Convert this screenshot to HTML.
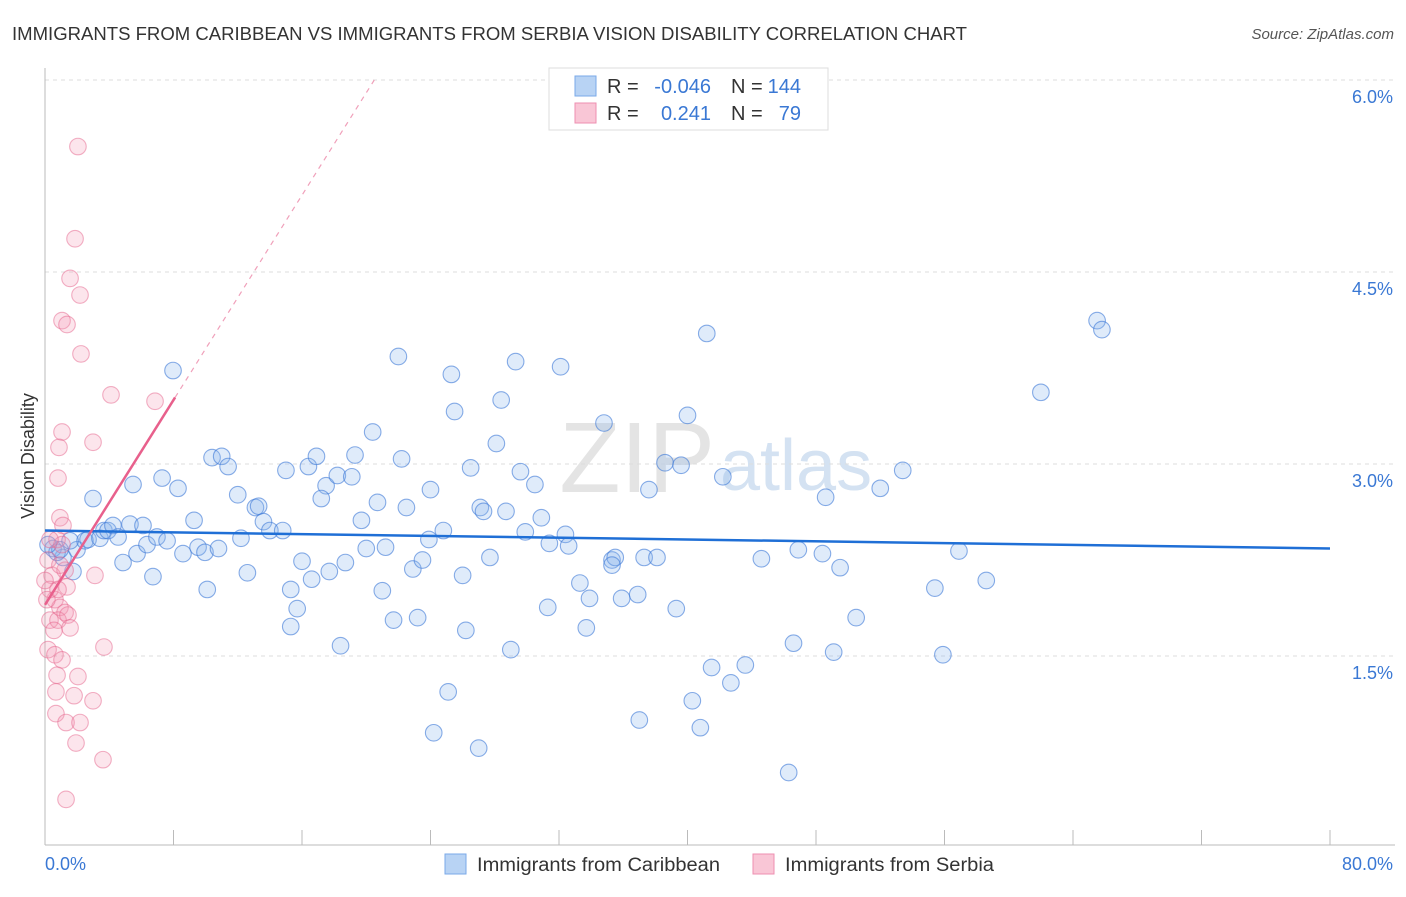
<!DOCTYPE html>
<html><head><meta charset="utf-8"><style>
body{margin:0;background:#fff;font-family:"Liberation Sans",sans-serif}
svg text{font-family:"Liberation Sans",sans-serif}
</style></head><body>
<svg id="c" width="1406" height="892" xmlns="http://www.w3.org/2000/svg">
<text x="12" y="40" font-size="18" fill="#333" textLength="955" lengthAdjust="spacingAndGlyphs">IMMIGRANTS FROM CARIBBEAN VS IMMIGRANTS FROM SERBIA VISION DISABILITY CORRELATION CHART</text>
<text x="1394" y="39" font-size="15" fill="#555" font-style="italic" text-anchor="end">Source: ZipAtlas.com</text>
<text x="715" y="492" font-size="100" fill="#e4e4e4" text-anchor="end" font-family="Liberation Serif">ZIP</text>
<text x="720" y="490" font-size="72" fill="#d4e2f2">atlas</text>
<g id="grid"></g>
<g id="axes"></g>
<g id="pts"></g>
<g id="trend"></g>
<text x="0" y="0" font-size="18" fill="#333" transform="translate(34,456) rotate(-90)" text-anchor="middle">Vision Disability</text>
<text x="45" y="870" font-size="18" fill="#3a78d4">0.0%</text>
<text x="1393" y="870" font-size="18" fill="#3a78d4" text-anchor="end">80.0%</text>
<g>
<rect x="549" y="68" width="279" height="62" fill="#fff" stroke="#ddd"/>
<rect x="575" y="76" width="21" height="20" fill="#b8d3f4" stroke="#7aaae8"/>
<rect x="575" y="103" width="21" height="20" fill="#f9c6d6" stroke="#ee8fb0"/>
<text x="607" y="93" font-size="20" fill="#333">R =</text>
<text x="711" y="93" font-size="20" fill="#3a78d4" text-anchor="end">-0.046</text>
<text x="731" y="93" font-size="20" fill="#333">N =</text>
<text x="801" y="93" font-size="20" fill="#3a78d4" text-anchor="end">144</text>
<text x="607" y="120" font-size="20" fill="#333">R =</text>
<text x="711" y="120" font-size="20" fill="#3a78d4" text-anchor="end">0.241</text>
<text x="731" y="120" font-size="20" fill="#333">N =</text>
<text x="801" y="120" font-size="20" fill="#3a78d4" text-anchor="end">79</text>
</g>
<g>
<rect x="445" y="854" width="21" height="20" fill="#b8d3f4" stroke="#7aaae8"/>
<text x="477" y="871" font-size="19" fill="#333" textLength="243" lengthAdjust="spacingAndGlyphs">Immigrants from Caribbean</text>
<rect x="753" y="854" width="21" height="20" fill="#f9c6d6" stroke="#ee8fb0"/>
<text x="785" y="871" font-size="19" fill="#333" textLength="209" lengthAdjust="spacingAndGlyphs">Immigrants from Serbia</text>
</g>
</svg>
<script>
const yTicks=[6.0,4.5,3.0,1.5];
const yTickLabels=["6.0%","4.5%","3.0%","1.5%"];
const xTicks=[0,8,16,24,32,40,48,56,64,72,80];
const blueX=[7.97,2.99,5.48,7.29,8.28,10.4,11.0,11.4,12.0,13.1,13.3,13.6,14.0,14.8,15.0,16.4,16.9,17.5,17.2,18.2,19.1,19.3,20.4,19.7,20.7,20.0,21.2,22.2,22.5,24.0,22.0,25.3,25.5,26.5,27.1,27.3,28.1,28.4,29.3,29.6,28.7,29.9,30.5,30.9,31.4,32.1,32.4,32.6,34.8,35.3,35.5,37.6,38.6,39.6,40.0,41.2,42.2,48.6,52.0,53.4,62.0,65.5,65.8,
4.86,6.72,5.73,8.59,9.28,9.53,9.96,10.8,12.2,12.6,10.1,15.3,16.0,16.6,17.7,18.7,15.7,15.3,18.4,21.0,21.7,23.2,22.9,23.5,23.9,24.8,26.0,26.2,27.7,25.1,24.2,27.0,29.0,31.3,33.3,33.9,33.7,35.3,35.9,36.9,37.3,38.1,39.3,37.0,41.5,40.3,40.8,42.7,43.6,44.6,46.6,46.3,46.9,48.4,49.5,49.1,50.5,55.4,55.9,56.9,58.6,
1.74,1.12,1.99,2.49,2.68,3.42,3.67,3.92,4.23,4.55,5.29,6.10,6.35,6.97,7.60,0.50,0.75,0.93,1.56,0.19];
const blueY=[3.73,2.73,2.84,2.89,2.81,3.05,3.06,2.98,2.76,2.66,2.67,2.55,2.48,2.48,2.95,2.98,3.06,2.83,2.73,2.91,2.90,3.07,3.25,2.56,2.70,2.34,2.35,3.04,2.66,2.80,3.84,3.70,3.41,2.97,2.66,2.63,3.16,3.50,3.80,2.94,2.63,2.47,2.84,2.58,2.38,3.76,2.45,2.36,3.32,2.25,2.27,2.80,3.01,2.99,3.38,4.02,2.90,2.74,2.81,2.95,3.56,4.12,4.05,
2.23,2.12,2.30,2.30,2.56,2.35,2.31,2.34,2.42,2.15,2.02,2.02,2.24,2.10,2.16,2.23,1.87,1.73,1.58,2.01,1.78,1.80,2.18,2.25,2.41,2.48,2.13,1.70,2.27,1.22,0.90,0.78,1.55,1.88,2.07,1.95,1.72,2.21,1.95,1.98,2.27,2.27,1.87,1.00,1.41,1.15,0.94,1.29,1.43,2.26,1.60,0.59,2.33,2.30,2.19,1.53,1.80,2.03,1.51,2.32,2.09,
2.16,2.27,2.33,2.40,2.41,2.42,2.48,2.48,2.52,2.43,2.53,2.52,2.37,2.43,2.40,2.34,2.31,2.33,2.40,2.37];
const pinkX=[2.05,1.87,1.56,2.18,1.06,1.37,2.24,4.11,6.85,1.06,2.99,0.87,0.81,0.93,1.12,0.75,1.06,3.11,3.67,1.37,0.19,0.44,0.62,0.93,1.25,0.31,0.81,1.43,1.56,0.19,0.62,1.06,0.75,2.05,0.68,1.81,2.99,0.68,1.31,2.18,1.93,3.61,1.31,0.31,0.56,0.12,0.81,1.25,0.31,0.93,0.0];
const pinkY=[5.48,4.76,4.45,4.32,4.12,4.09,3.86,3.54,3.49,3.25,3.17,3.13,2.89,2.58,2.52,2.41,2.37,2.13,1.57,2.04,2.25,2.13,1.94,1.88,1.84,1.78,1.78,1.82,1.72,1.55,1.51,1.47,1.35,1.34,1.22,1.19,1.15,1.05,0.98,0.98,0.82,0.69,0.38,2.02,1.70,1.94,2.02,2.17,2.41,2.21,2.09];
const blueTrend=[2.48,2.34];
const pinkTrend=[1.9,0.2];
const NS="http://www.w3.org/2000/svg";
const X=v=>45+v*(1285/80);
const Y=v=>80+(6-v)*128;
function mk(tag,attrs,parent){const e=document.createElementNS(NS,tag);for(const k in attrs)e.setAttribute(k,attrs[k]);parent.appendChild(e);return e;}
const grid=document.getElementById('grid'),axes=document.getElementById('axes'),pts=document.getElementById('pts'),tr=document.getElementById('trend');
yTicks.forEach((t,i)=>{
 const l=mk('line',{x1:45,x2:1395,y1:Y(t),y2:Y(t),stroke:'#ddd','stroke-dasharray':'4,4'},grid);
 
 
 const tx=mk('text',{x:1393,y:Y(t)+23,'font-size':18,fill:'#3a78d4','text-anchor':'end'},grid);
 tx.textContent=yTickLabels[i];
 
 
});
const ax=mk('line',{x1:45,x2:1395,y1:845,y2:845,stroke:'#bbb'},axes);


const ay=mk('line',{x1:45,x2:45,y1:68,y2:845,stroke:'#bbb'},axes);


xTicks.forEach(t=>{
 const l=mk('line',{x1:X(t),x2:X(t),y1:830,y2:845,stroke:'#bbb'},axes);
 
 
});
blueX.forEach((v,i)=>{
 const c=mk('circle',{cx:X(v),cy:Y(blueY[i]),r:8.3,fill:'rgba(140,182,238,0.28)',stroke:'rgba(60,120,215,0.6)','stroke-width':1.1},pts);
 
 
});
pinkX.forEach((v,i)=>{
 const c=mk('circle',{cx:X(v),cy:Y(pinkY[i]),r:8.3,fill:'rgba(245,150,180,0.25)',stroke:'rgba(230,100,140,0.5)','stroke-width':1.1},pts);
 
 
});
const bl=mk('line',{x1:X(0),y1:Y(blueTrend[0]),x2:X(80),y2:Y(blueTrend[1]),stroke:'#1f6fd6','stroke-width':2.5},tr);


const pEnd=8.1, pTop=(6-pinkTrend[0])/pinkTrend[1];
const pl=mk('line',{x1:X(0),y1:Y(pinkTrend[0]),x2:X(pEnd),y2:Y(pinkTrend[0]+pinkTrend[1]*pEnd),stroke:'#e8608c','stroke-width':2.5},tr);


const pd=mk('line',{x1:X(pEnd),y1:Y(pinkTrend[0]+pinkTrend[1]*pEnd),x2:X(pTop),y2:Y(6),stroke:'#f0a0ba','stroke-width':1.2,'stroke-dasharray':'5,5'},tr);


</script>
</body></html>
